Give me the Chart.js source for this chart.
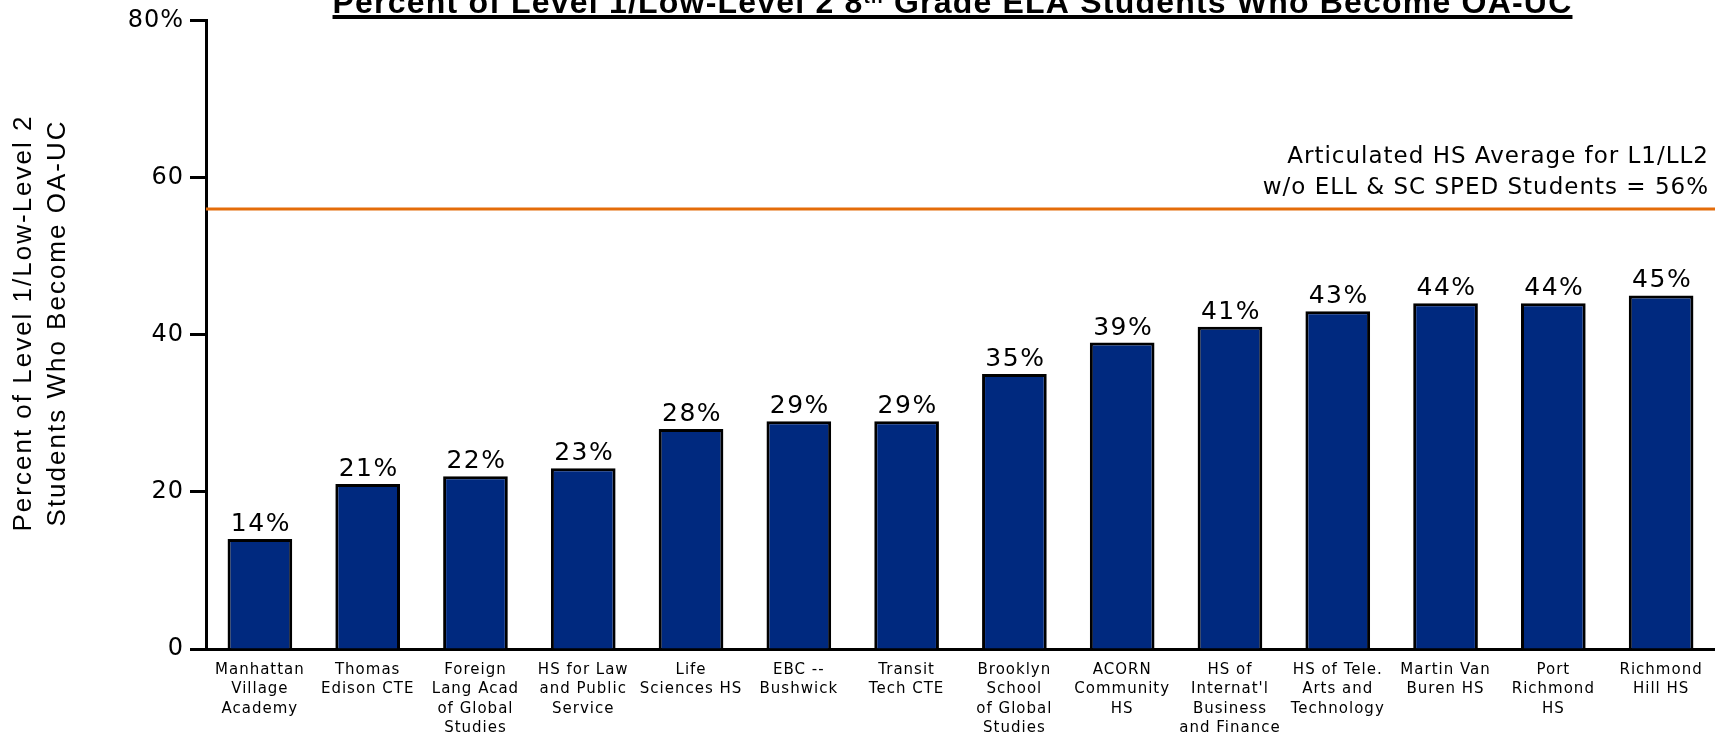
<!DOCTYPE html>
<html>
<head>
<meta charset="utf-8">
<script src="https://cdn.jsdelivr.net/npm/chart.js@4.4.1/dist/chart.umd.min.js"></script>
<style>
  html, body { margin: 0; padding: 0; background: #fff; }
  #wrap { width: 1715px; height: 735px; }
</style>
</head>
<body>
<div id="wrap"><canvas id="oaChart" width="1715" height="735"></canvas></div>
<script>
// schools, in the order they appear on the chart
const schools = [
  ['Manhattan', 'Village', 'Academy'],
  ['Thomas', 'Edison CTE'],
  ['Foreign', 'Lang Acad', 'of Global', 'Studies'],
  ['HS for Law', 'and Public', 'Service'],
  ['Life', 'Sciences HS'],
  ['EBC --', 'Bushwick'],
  ['Transit', 'Tech CTE'],
  ['Brooklyn', 'School', 'of Global', 'Studies'],
  ['ACORN', 'Community', 'HS'],
  ['HS of', "Internat'l", 'Business', 'and Finance'],
  ['HS of Tele.', 'Arts and', 'Technology'],
  ['Martin Van', 'Buren HS'],
  ['Port', 'Richmond', 'HS'],
  ['Richmond', 'Hill HS']
];
const pctOAUC = [14, 21, 22, 23, 28, 29, 29, 35, 39, 41, 43, 44, 44, 45];
const avgL1LL2 = 56;
const avgNote = ['Articulated HS Average for L1/LL2', 'w/o ELL & SC SPED Students = 56%'];
const yTicks = [0, 20, 40, 60, 80];
const yTitle = ['Percent of Level 1/Low-Level 2', 'Students Who Become OA-UC'];

// text in the original is slightly letter-spaced everywhere
const spacing = {
    id: 'spacing',
    beforeDraw(chart) {
        chart.ctx.letterSpacing = '1px';
    }
};

const avgLine = {
    id: 'avgLine',
    afterDatasetsDraw(chart) {
        const { ctx, chartArea, scales } = chart;
        const y = scales.y.getPixelForValue(avgL1LL2);
        ctx.save();
        ctx.strokeStyle = '#E46C0A';
        ctx.lineWidth = 3;
        ctx.beginPath();
        ctx.moveTo(chartArea.left, y);
        ctx.lineTo(chartArea.right, y);
        ctx.stroke();

        ctx.fillStyle = '#000';
        ctx.font = '23px "DejaVu Sans"';
        ctx.textAlign = 'right';
        ctx.textBaseline = 'alphabetic';
        ctx.fillText(avgNote[0], chartArea.right - 6, y - 46);
        ctx.fillText(avgNote[1], chartArea.right - 6, y - 15);
        ctx.restore();
    }
};

const barLabels = {
    id: 'barLabels',
    afterDatasetsDraw(chart) {
        const { ctx } = chart;
        const meta = chart.getDatasetMeta(0);
        ctx.save();
        ctx.font = '25px "DejaVu Sans"';
        ctx.letterSpacing = '1.5px';
        ctx.fillStyle = '#000';
        ctx.textAlign = 'center';
        ctx.textBaseline = 'bottom';
        meta.data.forEach((bar, i) => {
            ctx.fillText(pctOAUC[i] + '%', bar.x + 1, bar.y - 2);
        });
        ctx.restore();
    }
};

const sideTitle = {
    id: 'sideTitle',
    afterDraw(chart) {
        const { ctx } = chart;
        ctx.save();
        ctx.translate(24, 323);
        ctx.rotate(-Math.PI / 2);
        ctx.font = '26px "Liberation Sans"';
        ctx.letterSpacing = '2px';
        ctx.fillStyle = '#000';
        ctx.textAlign = 'center';
        ctx.textBaseline = 'middle';
        ctx.fillText(yTitle[0], 0, 0);
        ctx.fillText(yTitle[1], 0, 34);
        ctx.restore();
    }
};

// bold underlined title with superscript "th", partly cut off at the top
const pageTitle = {
    id: 'pageTitle',
    afterDraw(chart) {
        const { ctx, chartArea } = chart;
        const parts = [
            { text: 'Percent of Level 1/Low-Level 2 8', size: 32, rise: 0 },
            { text: 'th', size: 19, rise: 10 },
            { text: ' Grade ELA Students Who Become OA-UC', size: 32, rise: 0 }
        ];
        const base = 13;
        ctx.save();
        ctx.fillStyle = '#000';
        ctx.letterSpacing = '1.2px';
        ctx.textBaseline = 'alphabetic';
        ctx.textAlign = 'left';
        let total = 0;
        parts.forEach(p => {
            ctx.font = `bold ${p.size}px "Liberation Sans"`;
            p.w = ctx.measureText(p.text).width;
            total += p.w;
        });
        let x = (chartArea.left + chartArea.right) / 2 - 8 - total / 2;
        const x0 = x;
        parts.forEach(p => {
            ctx.font = `bold ${p.size}px "Liberation Sans"`;
            ctx.fillText(p.text, x, base - p.rise);
            x += p.w;
        });
        ctx.fillRect(x0, base + 2, total, 4);
        ctx.restore();
    }
};

new Chart(document.getElementById('oaChart').getContext('2d'), {
    type: 'bar',
    data: {
        labels: schools,
        datasets: [{
            data: pctOAUC,
            backgroundColor: '#00297F',
            borderColor: '#000',
            borderWidth: 3,
            barPercentage: 0.6,
            categoryPercentage: 1
        }]
    },
    options: {
        responsive: false,
        animation: false,
        layout: { padding: { top: 20, right: 0, left: 0, bottom: 0 } },
        plugins: {
            legend: { display: false },
            tooltip: { enabled: false }
        },
        scales: {
            x: {
                afterFit(scale) { scale.height = 86; },
                grid: { display: false, drawTicks: false },
                border: { color: '#000', width: 3 },
                ticks: {
                    color: '#000',
                    font: { family: 'DejaVu Sans', size: 15, lineHeight: 1.3 },
                    padding: 11,
                    maxRotation: 0,
                    autoSkip: false
                }
            },
            y: {
                min: 0,
                max: 80,
                afterBuildTicks(scale) { scale.ticks = yTicks.map(v => ({ value: v })); },
                afterFit(scale) { scale.width = 206; },
                grid: { drawOnChartArea: false, tickLength: 16, tickColor: '#000', tickWidth: 3 },
                border: { color: '#000', width: 3 },
                ticks: {
                    color: '#000',
                    font: { family: 'DejaVu Sans', size: 24 },
                    padding: 6,
                    callback: v => v === 80 ? '80%' : v
                }
            }
        }
    },
    plugins: [spacing, avgLine, barLabels, sideTitle, pageTitle]
});
</script>
</body>
</html>
